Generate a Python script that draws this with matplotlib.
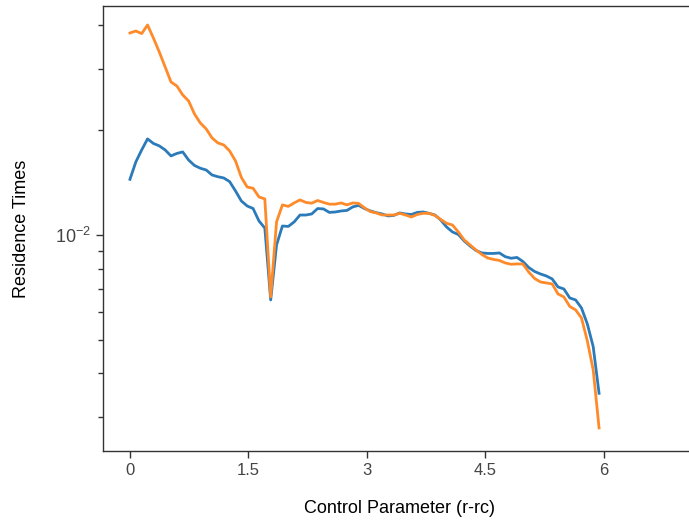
import numpy as np
import matplotlib
matplotlib.use("Agg")
import matplotlib.pyplot as plt
from matplotlib.ticker import NullFormatter, LogLocator

# control parameter grid (r - rc)
control_param = np.linspace(0, 5.94, 81)

residence_blue = [
    0.01445, 0.01621, 0.01755, 0.01888, 0.01832, 0.01803, 0.01755, 0.01687, 0.01715, 0.01732,
    0.01642, 0.01584, 0.01555, 0.01537, 0.01487, 0.01470, 0.01458, 0.01423, 0.01338, 0.01252,
    0.01211, 0.01191, 0.01097, 0.01047, 0.006505, 0.009360, 0.01061, 0.01058, 0.01090, 0.01141,
    0.01141, 0.01149, 0.01191, 0.01188, 0.01161, 0.01164, 0.01172, 0.01176, 0.01204, 0.01216,
    0.01191, 0.01172, 0.01159, 0.01149, 0.01134, 0.01138, 0.01157, 0.01149, 0.01145, 0.01161,
    0.01164, 0.01154, 0.01141, 0.01104, 0.01054, 0.01020, 0.01003, 0.009611, 0.009298, 0.009025,
    0.008878, 0.008848, 0.008848, 0.008878, 0.008661, 0.008571, 0.008617, 0.008392, 0.008065, 0.007853,
    0.007725, 0.007624, 0.007475, 0.007088, 0.006995, 0.006592, 0.006505, 0.006169, 0.005548, 0.004775,
    0.003507,
]

residence_orange = [
    0.03806, 0.03856, 0.03790, 0.04012, 0.03680, 0.03356, 0.03040, 0.02752, 0.02680, 0.02525,
    0.02427, 0.02227, 0.02098, 0.02017, 0.01900, 0.01838, 0.01814, 0.01743, 0.01632, 0.01463,
    0.01373, 0.01362, 0.01286, 0.01269, 0.006634, 0.01090, 0.01220, 0.01208, 0.01236, 0.01261,
    0.01240, 0.01234, 0.01256, 0.01240, 0.01226, 0.01226, 0.01236, 0.01220, 0.01236, 0.01232,
    0.01196, 0.01167, 0.01157, 0.01141, 0.01141, 0.01141, 0.01154, 0.01141, 0.01126, 0.01145,
    0.01154, 0.01154, 0.01138, 0.01108, 0.01080, 0.01068, 0.01020, 0.009674, 0.009360, 0.009055,
    0.008790, 0.008587, 0.008503, 0.008448, 0.008309, 0.008237, 0.008254, 0.008254, 0.007826, 0.007499,
    0.007327, 0.007279, 0.007231, 0.006768, 0.006634, 0.006232, 0.006090, 0.005775, 0.004960, 0.004093,
    0.002789,
]

xtick_vals = [0, 1.5, 3, 4.5, 6]
xtick_labels = ["0", "1.5", "3", "4.5", "6"]

plt.rcParams["font.family"] = ["Liberation Sans", "DejaVu Sans"]

fig = plt.figure(figsize=(6.89, 5.2), dpi=100)
ax = fig.add_axes([0.149, 0.1327, 0.8626, 0.8558])

ax.plot(control_param, residence_blue, color="#2b7bba", lw=2.0)
ax.plot(control_param, residence_orange, color="#ff8a2a", lw=2.0)

ax.set_yscale("log")
ax.set_xlim(-0.3456, 7.18)
ax.set_ylim(0.002394, 0.0455)

ax.set_xticks(xtick_vals)
ax.set_xticklabels(xtick_labels)
ax.yaxis.set_major_locator(LogLocator(base=10))
ax.yaxis.set_minor_locator(LogLocator(base=10, subs=np.arange(2, 10)))
ax.yaxis.set_minor_formatter(NullFormatter())

ax.tick_params(axis="x", which="major", labelsize=12)
ax.tick_params(axis="y", which="major", labelsize=13)
ax.tick_params(axis="both", which="major", length=5, width=1,
               colors="#333333", labelcolor="#444444")
ax.tick_params(axis="y", which="minor", length=3.5, width=1, colors="#333333")
for sp in ax.spines.values():
    sp.set_linewidth(1.0)
    sp.set_color("#333333")

ax.set_xlabel("Control Parameter (r-rc)", fontsize=13, labelpad=16)
ax.set_ylabel("Residence Times", fontsize=13, labelpad=18)

fig.savefig("out.png", dpi=100)
